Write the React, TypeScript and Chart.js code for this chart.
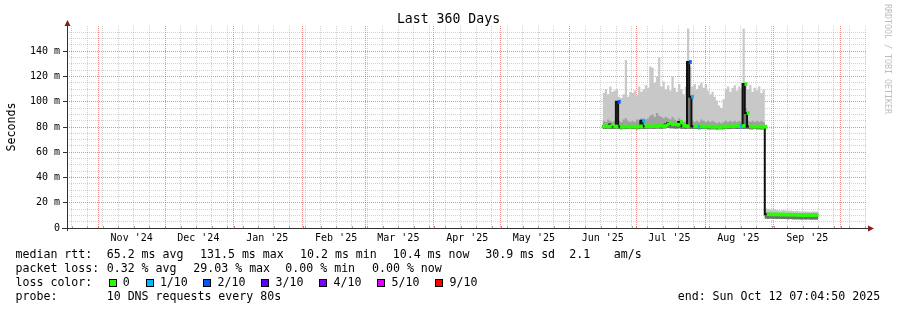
import React, { useEffect, useRef } from 'react';
import { Chart, registerables } from 'chart.js';

Chart.register(...registerables);

const FONT = "'DejaVu Sans Mono', 'Liberation Mono', monospace";

// x axis: days since the start of the 360-day window
const WINDOW_DAYS = 360;
const firstDataDay = 241;

// daily smoke / median values in milliseconds, from firstDataDay on
const smokeMax = [
  108, 107, 110, 106, 112, 108, 109, 110, 104, 103,
  106, 133, 104, 108, 107, 109, 105, 112, 108, 110,
  113, 111, 128, 127, 115, 120, 135, 112, 116, 110,
  113, 109, 120, 111, 108, 114, 110, 106, 112, 158,
  128, 112, 114, 110, 113, 115, 111, 114, 109, 106,
  108, 104, 101, 97, 95, 102, 110, 112, 108, 111,
  113, 109, 112, 110, 158, 112, 110, 113, 108, 111,
  109, 112, 107, 110,
  15.5, 15.2, 14.9, 14.6, 14.8, 14.3, 14.1, 13.9, 14.2, 13.8,
  13.6, 13.9, 13.5, 13.3, 13.6, 13.2, 13.1, 13.3, 13.0, 13.1,
  12.9, 13.1, 13.0,
];
const smokeMid = [
  84, 85, 84, 86, 85, 84, 85, 95, 85, 84,
  86, 87, 85, 84, 85, 84, 86, 85, 87, 85,
  86, 87, 89, 90, 88, 91, 89, 88, 87, 88,
  87, 86, 88, 86, 85, 87, 85, 84, 85, 125,
  105, 85, 84, 85, 84, 86, 85, 84, 85, 84,
  85, 84, 83, 84, 83, 84, 85, 84, 85, 84,
  85, 84, 85, 84, 105, 95, 85, 84, 85, 84,
  85, 84, 85, 84,
  12.4, 12.3, 12.2, 12.1, 12.2, 12.0, 11.9, 11.9, 12.0, 11.8,
  11.7, 11.8, 11.6, 11.6, 11.7, 11.5, 11.5, 11.6, 11.4, 11.5,
  11.4, 11.5, 11.4,
];
const smokeMin = [
  78.6, 78.5, 78.4, 78.6, 78.5, 78.5, 78.4, 78.6, 78.5, 78.3,
  78.5, 78.4, 78.5, 78.6, 78.4, 78.5, 78.3, 78.5, 78.6, 78.5,
  78.7, 78.6, 78.8, 78.7, 78.6, 78.9, 78.8, 78.7, 78.9, 79.0,
  79.2, 79.0, 79.1, 78.9, 78.8, 79.0, 78.7, 78.6, 78.5, 78.8,
  78.6, 78.5, 78.4, 78.5, 78.3, 78.5, 78.4, 78.5, 78.3, 78.2,
  78.3, 78.2, 78.1, 78.2, 78.3, 78.2, 78.4, 78.5, 78.4, 78.6,
  78.7, 78.5, 78.4, 78.6, 78.5, 78.7, 78.4, 78.3, 78.2, 78.4,
  78.3, 78.2, 78.1, 78.3,
  7.5, 7.4, 7.5, 7.3, 7.4, 7.2, 7.3, 7.2, 7.1, 7.2,
  7.0, 7.1, 7.0, 6.9, 7.0, 6.9, 6.8, 6.9, 6.8, 6.9,
  6.8, 6.8, 6.8,
];
const medianRtt = [
  80.5, 80.5, 80.3, 80.5, 82.0, 80.5, 80.4, 100.0, 80.3, 80.2,
  80.4, 80.3, 80.2, 80.4, 80.3, 80.2, 80.4, 80.5, 85.0, 80.6,
  80.8, 80.5, 80.7, 80.6, 80.5, 80.8, 81.0, 80.6, 80.9, 82.0,
  83.0, 82.0, 82.3, 82.0, 81.8, 84.0, 81.0, 80.8, 80.6, 131.5,
  104.0, 80.5, 80.4, 80.3, 80.5, 80.4, 80.3, 80.5, 80.4, 80.2,
  80.1, 80.3, 80.0, 80.2, 80.4, 80.3, 80.5, 80.6, 80.5, 80.7,
  80.8, 80.6, 80.5, 80.9, 114.0, 91.0, 80.4, 80.3, 80.2, 80.4,
  80.3, 80.2, 80.1, 80.3,
  10.9, 10.8, 10.8, 10.7, 10.8, 10.7, 10.6, 10.7, 10.6, 10.5,
  10.6, 10.5, 10.5, 10.4, 10.4, 10.3, 10.2, 10.3, 10.2, 10.3,
  10.2, 10.3, 10.4,
];
// pings lost out of 10, per day
const lossCount = [
  0, 0, 0, 0, 0, 0, 0, 2, 0, 0,
  0, 0, 0, 0, 0, 0, 0, 0, 1, 0,
  0, 0, 0, 0, 0, 0, 0, 0, 0, 0,
  0, 0, 0, 0, 0, 0, 0, 0, 0, 2,
  1, 0, 0, 1, 0, 0, 0, 0, 0, 0,
  0, 0, 0, 0, 0, 0, 0, 0, 0, 0,
  0, 0, 1, 0, 0, 0, 0, 0, 0, 0,
  0, 0, 0, 0,
  0, 0, 0, 0, 0, 0, 0, 0, 0, 0,
  0, 0, 0, 0, 0, 0, 0, 0, 0, 0,
  0, 0, 0,
];

// month starts (Nov '24 .. Oct '25) in window days, and month labels
const monthStartDays = [14.1, 44.1, 75.1, 106.1, 134.1, 165.1, 195.1, 226.1, 256.1, 287.1, 318.1, 348.1];
const monthLabels = ["Nov '24", "Dec '24", "Jan '25", "Feb '25", "Mar '25", "Apr '25", "May '25", "Jun '25", "Jul '25", "Aug '25", "Sep '25"];
const firstWeekLineDay = 2.1;

const Y_MAX = 160;
const yLabelValues = [0, 20, 40, 60, 80, 100, 120, 140];

const lossThresholds = [0, 1, 2, 3, 4, 5, 9];
const lossLabels = ['0', '1/10', '2/10', '3/10', '4/10', '5/10', '9/10'];
const lossColors = ['#26ff00', '#00b8ff', '#0059ff', '#5e00ff', '#7e00ff', '#dd00ff', '#ff0000'];

const MINOR = 'rgba(143,143,143,0.42)';
const MAJOR = 'rgba(230,70,70,0.62)';

function lossColorFor(n: number) {
  let c = lossColors[0];
  lossThresholds.forEach((t, i) => { if (n >= t) c = lossColors[i]; });
  return c;
}

const days = smokeMax.map((_, i) => firstDataDay + i);
function stepPoints(vals: number[]) {
  const pts = vals.map((v, i) => ({ x: days[i], y: v }));
  pts.push({ x: days[days.length - 1] + 1, y: vals[vals.length - 1] });
  return pts;
}

const monthSet = new Set(monthStartDays);
const weekDays: number[] = [];
for (let d = firstWeekLineDay; d < WINDOW_DAYS; d += 7) {
  const r = Math.round(d * 10) / 10;
  if (!monthStartDays.some((m) => Math.abs(m - r) < 0.6)) weekDays.push(r);
}
const xGridDays = [...weekDays, ...monthStartDays].sort((a, b) => a - b);
const monthLabelDays = monthLabels.map((_, i) => monthStartDays[i] + 15);
const yGridValues: number[] = [];
for (let v = 0; v <= Y_MAX; v += 5) yGridValues.push(v);

const axesPlugin = {
  id: 'rrdAxes',
  afterDraw(chart: any) {
    const { ctx, chartArea: a } = chart;
    const xs = chart.scales.x;
    ctx.save();
    // small solid ticks at the bottom of the x grid lines
    xGridDays.forEach((d) => {
      const px = Math.round(xs.getPixelForValue(d)) + 0.5;
      ctx.strokeStyle = monthSet.has(d) ? 'rgba(222,80,80,0.8)' : 'rgba(143,143,143,0.8)';
      ctx.beginPath();
      ctx.moveTo(px, a.bottom - 2);
      ctx.lineTo(px, a.bottom);
      ctx.stroke();
    });
    ctx.strokeStyle = '#303030';
    ctx.lineWidth = 1;
    ctx.beginPath();
    ctx.moveTo(a.left + 0.5, a.bottom + 3);
    ctx.lineTo(a.left + 0.5, a.top - 2);
    ctx.moveTo(a.left - 5, a.bottom + 0.5);
    ctx.lineTo(a.right + 2, a.bottom + 0.5);
    ctx.stroke();
    ctx.fillStyle = '#8b1a1a';
    ctx.beginPath();
    ctx.moveTo(a.left + 0.5, a.top - 6);
    ctx.lineTo(a.left - 2.5, a.top);
    ctx.lineTo(a.left + 3.5, a.top);
    ctx.closePath();
    ctx.fill();
    ctx.beginPath();
    ctx.moveTo(a.right + 7, a.bottom + 0.5);
    ctx.lineTo(a.right + 1, a.bottom - 2.5);
    ctx.lineTo(a.right + 1, a.bottom + 3.5);
    ctx.closePath();
    ctx.fill();
    ctx.restore();
  },
};

const legendRows: { top: number; items: [number, string][] }[] = [
  { top: 247.3, items: [[15.5, 'median rtt:'], [106.7, '65.2 ms avg'], [200, '131.5 ms max'], [300, '10.2 ms min'], [392.7, '10.4 ms now'], [485.3, '30.9 ms sd'], [569.3, '2.1'], [613.7, 'am/s']] },
  { top: 261.3, items: [[15.5, 'packet loss:'], [106.7, '0.32 % avg'], [193.3, '29.03 % max'], [285.3, '0.00 % min'], [372, '0.00 % now']] },
  { top: 275.3, items: [[15.5, 'loss color:']] },
  { top: 289.2, items: [[15.5, 'probe:'], [106.7, '10 DNS requests every 80s'], [677.7, 'end: Sun Oct 12 07:04:50 2025']] },
];
const lossBoxX = [108.5, 145.7, 203.3, 261.3, 319.3, 377.3, 435.3];

export default function App() {
  const ref = useRef<HTMLCanvasElement>(null);

  useEffect(() => {
    document.body.style.margin = '0';
    document.body.style.background = '#fff';
    const canvas = ref.current;
    if (!canvas) return;
    Chart.defaults.font.family = FONT;
    const chart = new Chart(canvas, {
      type: 'line',
      data: {
        datasets: [
          {
            label: 'smoke max',
            data: stepPoints(smokeMax),
            stepped: 'after',
            borderWidth: 0,
            borderColor: 'transparent',
            backgroundColor: '#c8c8c8',
            pointRadius: 0,
            fill: 1,
            order: 10,
          },
          {
            label: 'smoke min',
            data: stepPoints(smokeMin),
            stepped: 'after',
            borderWidth: 0,
            borderColor: 'transparent',
            pointRadius: 0,
            fill: false,
            order: 11,
          },
          {
            label: 'smoke mid',
            data: stepPoints(smokeMid),
            stepped: 'after',
            borderWidth: 0,
            borderColor: 'transparent',
            backgroundColor: '#a0a0a0',
            pointRadius: 0,
            fill: 1,
            order: 9,
          },
          {
            label: 'smoke low',
            data: stepPoints(medianRtt),
            stepped: 'after',
            borderWidth: 0,
            borderColor: 'transparent',
            backgroundColor: '#707070',
            pointRadius: 0,
            fill: 1,
            order: 8,
          },
          {
            label: 'median',
            data: stepPoints(medianRtt),
            stepped: 'after',
            borderWidth: 2,
            borderColor: '#111111',
            pointRadius: 0,
            fill: false,
            order: 2,
          },
          {
            type: 'bar',
            label: 'loss',
            data: medianRtt.map((m, i) => ({ x: days[i] + 0.5, y: [m - 1.2, m + 1.2] })),
            backgroundColor: lossCount.map(lossColorFor),
            borderWidth: 0,
            barPercentage: 1,
            categoryPercentage: 1,
            grouped: false,
            order: 1,
          } as any,
        ],
      },
      options: {
        animation: false,
        responsive: false,
        devicePixelRatio: 1,
        events: [],
        layout: { padding: { top: 26, right: 30, bottom: 0, left: 0 } },
        plugins: {
          legend: { display: false },
          tooltip: { enabled: false },
          title: { display: false },
        },
        scales: {
          x: {
            type: 'linear',
            position: 'bottom',
            min: 0,
            max: WINDOW_DAYS,
            offset: false,
            afterBuildTicks: (s: any) => { s.ticks = xGridDays.map((v) => ({ value: v })); },
            afterFit: (s: any) => { s.height = 0; },
            grid: {
              offset: false,
              drawTicks: false,
              lineWidth: 1,
              color: (c: any) => (c.tick && monthSet.has(c.tick.value) ? MAJOR : MINOR),
            },
            border: { display: false, dash: [1, 1] },
            ticks: { display: false, autoSkip: false },
          },
          xl: {
            type: 'linear',
            position: 'bottom',
            min: 0,
            max: WINDOW_DAYS,
            offset: false,
            afterBuildTicks: (s: any) => { s.ticks = monthLabelDays.map((v) => ({ value: v })); },
            afterFit: (s: any) => { s.height = 82; },
            grid: { display: false, drawTicks: false },
            border: { display: false },
            ticks: {
              autoSkip: false,
              maxRotation: 0,
              minRotation: 0,
              padding: 4,
              color: '#000',
              font: { family: FONT, size: 10 },
              callback: (_v: any, i: number) => monthLabels[i] ?? '',
            },
          },
          y: {
            type: 'linear',
            min: 0,
            max: Y_MAX,
            afterBuildTicks: (s: any) => { s.ticks = yGridValues.map((v) => ({ value: v })); },
            afterFit: (s: any) => { s.width = 67; },
            grid: {
              drawTicks: true,
              tickLength: 4,
              lineWidth: 1,
              color: (c: any) => {
                const v = c.tick ? c.tick.value : -1;
                if (v >= Y_MAX) return 'transparent';
                return yLabelValues.includes(v) ? MAJOR : MINOR;
              },
              tickColor: (c: any) => (c.tick && yLabelValues.includes(c.tick.value) ? '#303030' : 'transparent'),
            },
            border: { display: false, dash: [1, 1] },
            ticks: {
              autoSkip: false,
              padding: 3,
              color: '#000',
              font: { family: FONT, size: 10 },
              callback: (v: any) => (yLabelValues.includes(v) ? (v === 0 ? '0' : `${v} m`) : ''),
            },
          },
        },
      } as any,
      plugins: [axesPlugin],
    });
    return () => chart.destroy();
  }, []);

  const textBase: React.CSSProperties = {
    position: 'absolute',
    fontFamily: FONT,
    whiteSpace: 'pre',
    color: '#000',
  };

  return (
    <div style={{ position: 'relative', width: 897, height: 310, background: '#fff', overflow: 'hidden' }}>
      <canvas ref={ref} width={897} height={310} style={{ position: 'absolute', left: 0, top: 0, width: 897, height: 310 }} />
      <div style={{ ...textBase, left: 0, top: 11, width: 897, textAlign: 'center', fontSize: 13.2, lineHeight: '15px' }}>
        Last 360 Days
      </div>
      <div
        style={{
          ...textBase,
          left: 10.5 - 50,
          top: 127 - 7,
          width: 100,
          height: 14,
          textAlign: 'center',
          fontSize: 11.6,
          lineHeight: '14px',
          transform: 'rotate(-90deg)',
          transformOrigin: '50% 50%',
        }}
      >
        Seconds
      </div>
      <div
        style={{
          ...textBase,
          left: 883,
          top: 4,
          fontSize: 8.3,
          lineHeight: '10px',
          color: '#bdbdbd',
          writingMode: 'vertical-rl',
        }}
      >
        RRDTOOL / TOBI OETIKER
      </div>
      {legendRows.map((row, ri) =>
        row.items.map(([x, t], ti) => (
          <div key={`${ri}-${ti}`} style={{ ...textBase, left: x, top: row.top, fontSize: 11.6, lineHeight: '14px' }}>
            {t}
          </div>
        ))
      )}
      {lossLabels.map((lab, i) => (
        <React.Fragment key={lab}>
          <div
            style={{
              position: 'absolute',
              left: lossBoxX[i],
              top: 278.5,
              width: 8,
              height: 8,
              boxSizing: 'border-box',
              border: '1px solid #000',
              background: lossColors[i],
            }}
          />
          <div style={{ ...textBase, left: lossBoxX[i] + 14.2, top: 275.3, fontSize: 11.6, lineHeight: '14px' }}>{lab}</div>
        </React.Fragment>
      ))}
    </div>
  );
}
